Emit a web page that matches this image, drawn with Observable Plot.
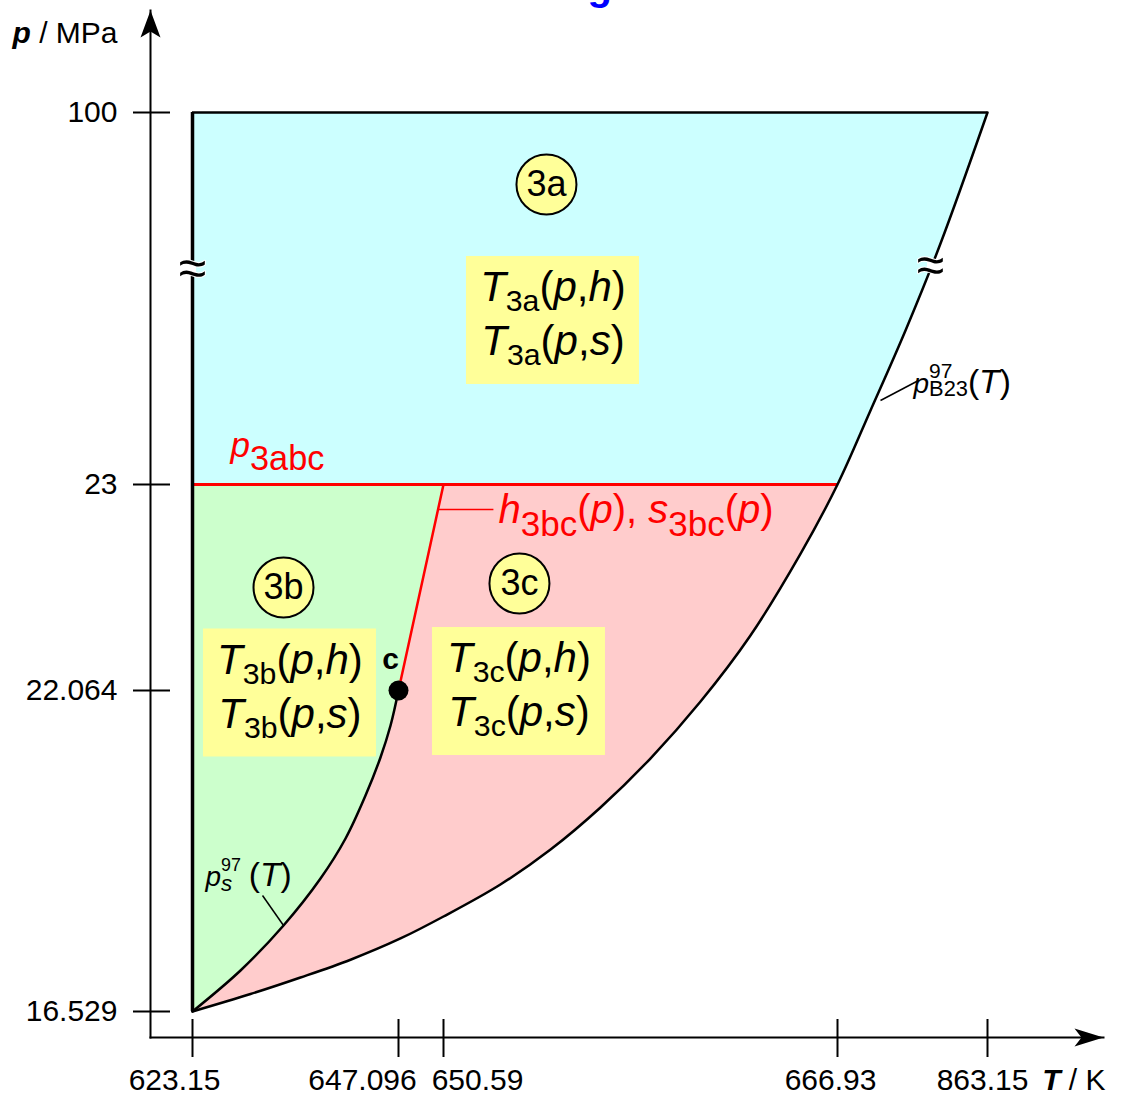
<!DOCTYPE html>
<html><head><meta charset="utf-8">
<script src="https://cdn.jsdelivr.net/npm/d3@7"></script>
<script src="https://cdn.jsdelivr.net/npm/@observablehq/plot@0.6"></script>
<style>html,body{margin:0;padding:0;background:#fff;} svg{display:block;}</style>
</head><body><div id="chart"></div>
<script>
// ---------------- data ----------------
const tempTicks = [623.15, 647.096, 650.59, 666.93, 863.15];
const tempTickLabels = ["623.15", "647.096", "650.59", "666.93", "863.15"];
const pressTicks = [16.529, 22.064, 23, 100];
const pressTickLabels = ["16.529", "22.064", "23", "100"];

// B23 boundary p_B23(T)
const b23T = [623.15, 629.89, 635.70, 641.52, 647.25, 650.59, 652.95, 655.03, 657.10, 659.17, 661.25, 663.32, 665.40, 666.93, 710.10, 755.88, 801.67, 863.15];
const b23P = [16.529, 16.830, 17.115, 17.422, 17.788, 18.167, 18.719, 19.322, 20.047, 20.891, 21.874, 22.314, 22.686, 23, 38.32, 54.88, 72.88, 100];
// saturation line p_s(T)
const satT = [623.15, 628.73, 633.73, 638.03, 640.94, 643.26, 645.00, 646.17, 647.096];
const satP = [16.529, 17.236, 18.012, 18.822, 19.512, 20.253, 20.909, 21.460, 22.064];
// 3b/3c boundary h3bc(p), s3bc(p)
const bcT = [647.096, 650.59];
const bcP = [22.064, 23];
const p3abc = 23;
const pMax = 100;
const criticalT = 647.096, criticalP = 22.064;

// region labels
const regionNames = ["3a", "3b", "3c"];
const regionLabelT = [654.86, 633.73, 653.74];
const regionLabelP = [85.10, 22.532, 22.550];
const boxT = [655.13, 634.48, 653.72];
const boxP = [56.95, 22.021, 22.047];
const boxLine1 = ["*T*_{3a}(*p*,*h*)", "*T*_{3b}(*p*,*h*)", "*T*_{3c}(*p*,*h*)"];
const boxLine2 = ["*T*_{3a}(*p*,*s*)", "*T*_{3b}(*p*,*s*)", "*T*_{3c}(*p*,*s*)"];

// annotations (data units)
const p3abcLabel = {T: 627.57, p: 28.59, text: "*p*_{3abc}"};
const bcLabel = {T: 652.87, p: 22.827, text: "*h*_{3bc}(*p*), *s*_{3bc}(*p*)"};
const bcPointer = {T1: 650.20, T2: 652.66, p: 22.886};
const satLabel = {T: 624.66, p: 18.70, text: "*p*^{97}_{*s*} #{(*T*)}"};
const satPointer = {T1: 631.29, p1: 18.529, T2: 633.73, p2: 18.012};
const b23Label = {T: 766.35, p: 42.04, text: "*p*^{97}_{B23}#{(*T*)}"};
const b23Pointer = {T1: 723.18, p1: 40.39, T2: 772.89, p2: 44.53};
const breakT = [623.15, 788.59];
const breakP = [67.7, 68.33];

// ---------------- styles ----------------
const FILL_A = "#ccffff", FILL_B = "#ccffcc", FILL_C = "#ffcccc", FILL_Y = "#ffff99";
const tempLabelNudge = [-18, -36, 34, -7, -5];
const richStyle = {
  "*p*_{3abc}": {sub: 0.98, subShift: 13},
  "*h*_{3bc}(*p*), *s*_{3bc}(*p*)": {sub: 0.875, subShift: 13},
  "*p*^{97}_{*s*} #{(*T*)}": {sup: 0.64, supShift: 15, sub: 0.8, subShift: 5, big: 1.2},
  "*p*^{97}_{B23}#{(*T*)}": {sup: 0.75, supShift: 15, sub: 0.78, subShift: 3, big: 1.2}
};
boxLine1.concat(boxLine2).forEach(s => richStyle[s] = {sub: 0.72, subShift: 10});

const arrowUp = {draw(ctx) { ctx.moveTo(0, 0); ctx.lineTo(10, 27); ctx.lineTo(0, 21); ctx.lineTo(-10, 27); ctx.closePath(); }};
const arrowRight = {draw(ctx) { ctx.moveTo(0, 0); ctx.lineTo(-29, -9); ctx.lineTo(-22, 0); ctx.lineTo(-29, 9); ctx.closePath(); }};

// ---------------- tables ----------------
const b23 = b23T.map((T, i) => ({T, p: b23P[i]}));
const sat = satT.map((T, i) => ({T, p: satP[i]}));
const bc = bcT.map((T, i) => ({T, p: bcP[i]}));
const b23Low = b23.filter(d => d.p <= p3abc);
const b23High = b23.filter(d => d.p >= p3abc);
const greenEdge = sat.concat([bc[1]]);
const regions = regionNames.map((name, i) => ({name, T: regionLabelT[i], p: regionLabelP[i]}));
const boxes = boxT.map((T, i) => ({T, p: boxP[i], line1: boxLine1[i], line2: boxLine2[i]}));
const breaks = breakT.map((T, i) => ({T, p: breakP[i]}));

const tempLabelMarks = tempTicks.map((t, i) => Plot.text([t], {
  x: d => d, text: () => tempTickLabels[i], frameAnchor: "bottom", dy: 43, dx: tempLabelNudge[i],
  lineAnchor: "middle", fontSize: 30
}));

const chart = Plot.plot({
  width: 1130, height: 1097,
  marginLeft: 150, marginRight: 27, marginTop: 10, marginBottom: 60,
  style: {fontFamily: "'Liberation Sans', Arial, sans-serif", background: "white"},
  x: {type: "linear", domain: tempTicks, range: [192, 398, 443, 837, 987]},
  y: {type: "linear", domain: pressTicks, range: [1011, 690, 484, 112]},
  marks: [
    // region fills
    Plot.areaY(b23Low, {x: "T", y1: "p", y2: () => p3abc, fill: FILL_C, curve: "catmull-rom"}),
    Plot.areaY(greenEdge, {x: "T", y1: "p", y2: () => p3abc, fill: FILL_B, curve: "catmull-rom"}),
    Plot.areaX(b23High, {y: "p", x1: () => tempTicks[0], x2: "T", fill: FILL_A, curve: "catmull-rom"}),
    // yellow label boxes
    Plot.rect(boxes, {x1: "T", x2: "T", y1: "p", y2: "p", insetLeft: -86.5, insetRight: -86.5, insetTop: -64, insetBottom: -64, fill: FILL_Y}),
    // red boundaries
    Plot.ruleY([p3abc], {y: d => d, x1: () => tempTicks[0], x2: () => tempTicks[3], stroke: "red", strokeWidth: 3}),
    Plot.line(bc, {x: "T", y: "p", stroke: "red", strokeWidth: 2.5}),
    Plot.link([bcPointer], {x1: "T1", x2: "T2", y1: "p", y2: "p", stroke: "red", strokeWidth: 1.5}),
    // black boundaries
    Plot.ruleX([tempTicks[0]], {x: d => d, y1: () => pressTicks[0], y2: () => pMax, strokeWidth: 3.5}),
    Plot.ruleY([pMax], {y: d => d, x1: () => tempTicks[0], x2: () => tempTicks[4], strokeWidth: 2.5}),
    Plot.line(b23, {x: "T", y: "p", curve: "catmull-rom", strokeWidth: 2.5}),
    Plot.line(sat, {x: "T", y: "p", curve: "catmull-rom", strokeWidth: 2.5}),
    Plot.dot([{T: criticalT, p: criticalP}], {x: "T", y: "p", r: 10, fill: "black"}),
    Plot.text([{T: criticalT, p: criticalP}], {x: "T", y: "p", text: () => "c", dx: -8, dy: -22, lineAnchor: "bottom", fontSize: 30, fontWeight: "bold"}),
    // pointers
    Plot.link([satPointer], {x1: "T1", y1: "p1", x2: "T2", y2: "p2", strokeWidth: 1.5}),
    Plot.link([b23Pointer], {x1: "T1", y1: "p1", x2: "T2", y2: "p2", strokeWidth: 1.5}),
    // region circles
    Plot.dot(regions, {x: "T", y: "p", r: 30, fill: FILL_Y, stroke: "black", strokeWidth: 2}),
    Plot.text(regions, {x: "T", y: "p", text: "name", fontSize: 36, lineAnchor: "middle"}),
    // box texts
    Plot.text(boxes, {x: "T", y: "p", text: "line1", fontSize: 42, lineAnchor: "bottom", dy: -19}),
    Plot.text(boxes, {x: "T", y: "p", text: "line2", fontSize: 42, lineAnchor: "bottom", dy: 35}),
    // curve labels
    Plot.text([p3abcLabel], {x: "T", y: "p", text: "text", fill: "red", fontSize: 35, textAnchor: "start", lineAnchor: "bottom"}),
    Plot.text([bcLabel], {x: "T", y: "p", text: "text", fill: "red", fontSize: 40, textAnchor: "start", lineAnchor: "bottom"}),
    Plot.text([satLabel], {x: "T", y: "p", text: "text", fontSize: 28, textAnchor: "start", lineAnchor: "bottom"}),
    Plot.text([b23Label], {x: "T", y: "p", text: "text", fontSize: 28, textAnchor: "start", lineAnchor: "bottom"}),
    // axis break symbols
    Plot.dot(breaks, {x: "T", y: "p", r: 4, symbol: "square", fill: "white"}),
    Plot.text(breaks, {x: "T", y: "p", text: () => "\u2248", fontSize: 50, lineAnchor: "middle", stroke: "white", strokeWidth: 2, paintOrder: "stroke", fill: "black"}),
    // axes
    Plot.frame({anchor: "left", strokeWidth: 2}),
    Plot.frame({anchor: "bottom", strokeWidth: 2}),
    Plot.dot([0], {frameAnchor: "top-left", symbol: arrowUp, fill: "black", stroke: "none"}),
    Plot.dot([0], {frameAnchor: "bottom-right", symbol: arrowRight, fill: "black", stroke: "none"}),
    Plot.axisX(tempTicks, {tickSize: 38, dy: -18, tickFormat: () => "", strokeWidth: 2, label: null}),
    Plot.axisY(pressTicks, {tickSize: 37, dx: 20, tickFormat: () => "", strokeWidth: 2, label: null}),
    ...tempLabelMarks,
    Plot.text(pressTicks, {y: d => d, text: (d, i) => pressTickLabels[i], frameAnchor: "left", textAnchor: "end", dx: -33, lineAnchor: "middle", fontSize: 30}),
    Plot.text(["!*p*! / MPa"], {frameAnchor: "top-left", textAnchor: "end", dx: -33, dy: 23, lineAnchor: "middle", fontSize: 30}),
    Plot.text(["!*T*! / K"], {frameAnchor: "bottom-right", textAnchor: "end", dx: 2, dy: 43, lineAnchor: "middle", fontSize: 30}),
    // cropped title
    Plot.text(["g"], {frameAnchor: "top-left", dx: 437, dy: -11, lineAnchor: "bottom", fill: "blue", fontSize: 40, fontWeight: "bold"})
  ]
});

document.getElementById("chart").appendChild(chart);

// ---------------- rich text (italic / sub / sup / enlarged) ----------------
function parseRich(s) {
  const segs = []; let it = false, bd = false, kind = "n", g = -1, gid = 0, buf = "";
  const flush = () => { if (buf) segs.push({t: buf, it, bd, kind, g}); buf = ""; };
  for (let i = 0; i < s.length; i++) {
    const c = s[i];
    if (c === "*") { flush(); it = !it; }
    else if (c === "!") { flush(); bd = !bd; }
    else if ((c === "_" || c === "^" || c === "#") && s[i + 1] === "{") { flush(); kind = c === "_" ? "sub" : c === "^" ? "sup" : "big"; g = ++gid; i++; }
    else if (c === "}" && kind !== "n") { flush(); kind = "n"; g = -1; }
    else buf += c;
  }
  flush();
  return segs;
}
function richify(root) {
  const NS = "http://www.w3.org/2000/svg";
  root.querySelectorAll("text").forEach(el => {
    const raw = el.textContent;
    if (!/[*_^!#]/.test(raw)) return;
    const fs = parseFloat(getComputedStyle(el).fontSize);
    const st = Object.assign({sub: 0.7, subShift: fs * 0.25, sup: 0.65, supShift: fs * 0.4, big: 1.2}, richStyle[raw] || {});
    const segs = parseRich(raw);
    while (el.firstChild) el.removeChild(el.firstChild);
    el.style.whiteSpace = "pre";
    let level = 0, pendingDx = 0, stackSupW = null;
    const gw = {};
    segs.forEach((s, k) => {
      const t = document.createElementNS(NS, "tspan");
      t.textContent = s.t;
      if (s.it) t.setAttribute("font-style", "italic");
      if (s.bd) t.setAttribute("font-weight", "bold");
      let target = 0;
      if (s.kind === "sub") { t.setAttribute("font-size", fs * st.sub); target = st.subShift; }
      else if (s.kind === "sup") { t.setAttribute("font-size", fs * st.sup); target = -st.supShift; }
      else if (s.kind === "big") { t.setAttribute("font-size", fs * st.big); }
      if (target !== level) { t.setAttribute("dy", target - level); level = target; }
      let dx = pendingDx; pendingDx = 0;
      const groupStart = s.kind !== "n" && (k === 0 || segs[k - 1].g !== s.g);
      if (groupStart && s.kind === "sub" && k > 0 && segs[k - 1].kind === "sup") {
        stackSupW = gw[segs[k - 1].g] || 0;
        dx -= stackSupW;
      }
      if (dx) t.setAttribute("dx", dx);
      el.appendChild(t);
      if (s.kind !== "n") gw[s.g] = (gw[s.g] || 0) + t.getComputedTextLength();
      const groupEnd = s.kind !== "n" && (k === segs.length - 1 || segs[k + 1].g !== s.g);
      if (groupEnd && s.kind === "sub" && stackSupW !== null) {
        pendingDx = Math.max(0, stackSupW - gw[s.g]);
        stackSupW = null;
      }
    });
  });
}
richify(chart);
</script>
</body></html>
